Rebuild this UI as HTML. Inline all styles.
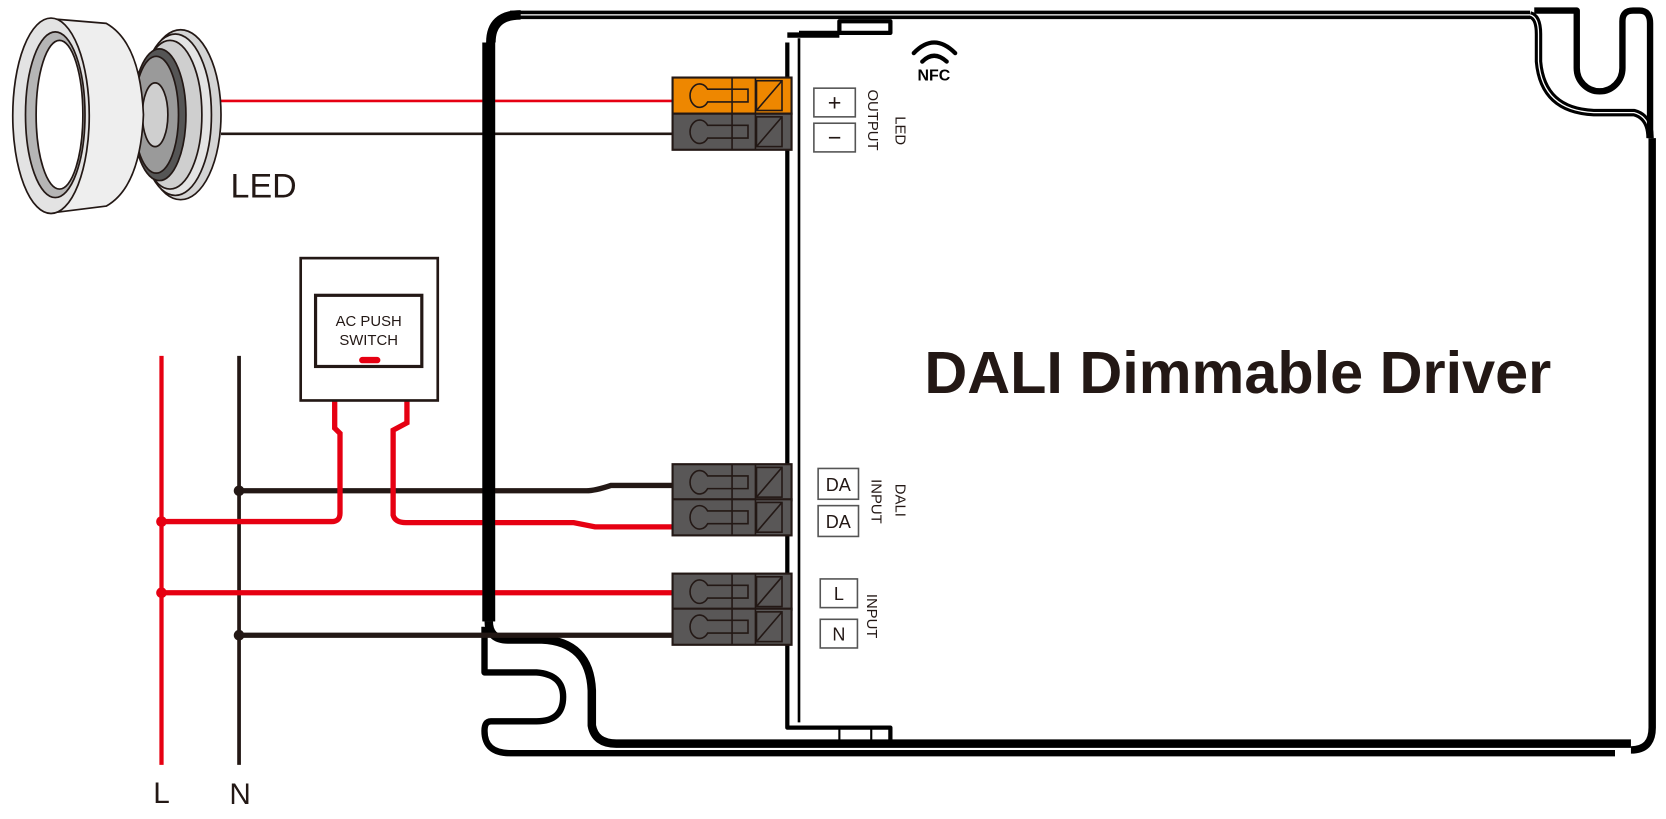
<!DOCTYPE html>
<html><head><meta charset="utf-8"><style>
html,body{margin:0;padding:0;background:#fff;}
svg{display:block;}
text{font-family:"Liberation Sans",Arial,sans-serif;}
</style></head><body>
<svg width="1666" height="819" viewBox="0 0 1568 771" preserveAspectRatio="none" xmlns="http://www.w3.org/2000/svg">
<defs>
<g id="conn">
  <rect x="0" y="0" width="112" height="34" stroke="#231815" stroke-width="2"/>
  <line x1="56" y1="0" x2="56" y2="34" stroke="#231815" stroke-width="1.5"/>
  <line x1="78" y1="0" x2="78" y2="34" stroke="#231815" stroke-width="1.5"/>
  <rect x="79" y="3" width="24" height="28" fill="none" stroke="#231815" stroke-width="1.5"/>
  <line x1="79" y1="31" x2="103" y2="3" stroke="#231815" stroke-width="1.5"/>
  <path d="M33,11 L71,11 L71,23 L33,23 A9,11 0 1 1 33,11 Z" fill="none" stroke="#231815" stroke-width="1.5"/>
</g>
</defs>

<!-- housing -->
<g fill="none" stroke="#000" stroke-linejoin="round">
  <path d="M480,14 L1440,14" stroke-width="8"/>
  <path d="M490,14 L1440,14" stroke="#fff" stroke-width="1.2"/>
  <path d="M462,40 Q462,14 490,14" stroke-width="9"/>
  <path d="M460,40 L460,585" stroke-width="12"/>
  <path d="M460,585 Q460,602 478,602 L510,602 Q555,604 557,650 L557,683 Q560,700 580,700 L1535,700" stroke-width="8"/>
  <path d="M456,590 L456,633 L505,633 Q530,635 530,656 Q530,679 505,679 L462,679 Q456,679 456,688 Q456,709 480,709 L1520,709" stroke-width="6"/>
  <path d="M1535,706 Q1555,706 1555,685 L1555,130" stroke-width="7"/>
  <path d="M1440,14 Q1448,16 1448,32 L1448,58 Q1452,104 1500,106 L1538,106 Q1553,110 1553,130" stroke-width="7"/>
  <path d="M1440,14 Q1448,16 1448,32 L1448,58 Q1452,104 1500,106 L1538,106 Q1553,110 1553,130" stroke="#fff" stroke-width="1.2"/>
  <path d="M1444,10 L1484,10 L1484,64 A21.5,22 0 0 0 1527,64 L1527,20 Q1527,10 1537,10 L1543,10 Q1553,10 1553,22 L1553,130" stroke-width="6"/>
  <path d="M752,31 L838,31 L838,20 L790,20 L790,31" stroke-width="4"/>
  <path d="M741,40 L741,685 L838,685 L838,700" stroke-width="4"/>
  <path d="M741,33 L790,33" stroke-width="5"/>
  <path d="M752,36 L752,680" stroke-width="2.5"/>
  <path d="M790,686 L790,700 M820,686 L820,700" stroke-width="2"/>
</g>

<!-- wires -->
<g fill="none" stroke-width="3.5">
  <line x1="208" y1="95" x2="633" y2="95" stroke="#e60012" stroke-width="2.5"/>
  <line x1="208" y1="126" x2="633" y2="126" stroke="#231815" stroke-width="2.5"/>
  <line x1="152" y1="335" x2="152" y2="720" stroke="#e60012" stroke-width="4"/>
  <line x1="225" y1="335" x2="225" y2="720" stroke="#231815" stroke-width="3.5"/>
  <path d="M225,462 L552,462 Q560,462 575,457 L633,457" stroke="#231815" stroke-width="5"/>
  <path d="M152,491 L312,491 Q320,491 320,483 L320,408 L315,403 L315,378" stroke="#e60012" stroke-width="5"/>
  <path d="M383,378 L383,398 L370,405 L370,485 Q372,492 382,492 L540,492 L560,496 L633,496" stroke="#e60012" stroke-width="5"/>
  <line x1="152" y1="558" x2="633" y2="558" stroke="#e60012" stroke-width="5"/>
  <line x1="225" y1="598" x2="633" y2="598" stroke="#231815" stroke-width="5"/>
</g>
<g fill="#231815">
  <circle cx="225" cy="462" r="5"/><circle cx="225" cy="598" r="5"/>
</g>
<g fill="#e60012">
  <circle cx="152" cy="491" r="5"/><circle cx="152" cy="558" r="5"/>
</g>
<path d="M460,40 L460,585" stroke="#000" stroke-width="12"/>

<use href="#conn" x="633" y="73" fill="#ee8700"/>
<use href="#conn" x="633" y="107" fill="#595757"/>
<use href="#conn" x="633" y="437" fill="#595757"/>
<use href="#conn" x="633" y="470" fill="#595757"/>
<use href="#conn" x="633" y="540" fill="#595757"/>
<use href="#conn" x="633" y="573" fill="#595757"/>

<g fill="#fff" stroke="#555" stroke-width="1.5">
  <rect x="766" y="83" width="39" height="27"/>
  <rect x="766" y="116" width="39" height="27"/>
  <rect x="770" y="441" width="38" height="29"/>
  <rect x="770" y="476" width="38" height="29"/>
  <rect x="772" y="545" width="35" height="27"/>
  <rect x="772" y="583" width="35" height="27"/>
</g>
<g fill="#231815" font-size="17" text-anchor="middle">
  <text x="785.5" y="104" font-size="22">+</text>
  <text x="785.5" y="137" font-size="22">−</text>
  <text x="789" y="462">DA</text>
  <text x="789" y="497">DA</text>
  <text x="789.5" y="565">L</text>
  <text x="789.5" y="603">N</text>
</g>
<g fill="#231815" font-size="14" text-anchor="middle">
  <text transform="translate(817,113) rotate(90)">OUTPUT</text>
  <text transform="translate(843,123) rotate(90)">LED</text>
  <text transform="translate(820,472) rotate(90)">INPUT</text>
  <text transform="translate(843,471) rotate(90)">DALI</text>
  <text transform="translate(816,580) rotate(90)">INPUT</text>
</g>

<g fill="none" stroke="#000" stroke-width="4" stroke-linecap="round">
  <path d="M860,50 Q879,30 899,50"/>
  <path d="M868,58 Q879,47 891,58"/>
</g>
<text x="879" y="76" font-size="15" font-weight="bold" text-anchor="middle" fill="#000">NFC</text>

<text x="870" y="370" font-size="56" font-weight="bold" fill="#231815" textLength="590" lengthAdjust="spacingAndGlyphs">DALI Dimmable Driver</text>

<rect x="283" y="243" width="129" height="134" fill="#fff" stroke="#231815" stroke-width="2.5"/>
<rect x="297" y="278" width="100" height="67" fill="#fff" stroke="#231815" stroke-width="3"/>
<text x="347" y="307" font-size="14" text-anchor="middle" fill="#231815">AC PUSH</text>
<text x="347" y="325" font-size="14" text-anchor="middle" fill="#231815">SWITCH</text>
<line x1="341" y1="339" x2="355" y2="339" stroke="#e60012" stroke-width="6" stroke-linecap="round"/>

<g stroke="#231815" stroke-width="1.6">
  <ellipse cx="170" cy="108" rx="38" ry="80" fill="#d4d4d4"/>
  <ellipse cx="165" cy="108" rx="34" ry="76" fill="#e4e4e4"/>
  <ellipse cx="160" cy="108" rx="30" ry="70" fill="#cfcfcf"/>
  <ellipse cx="150" cy="108" rx="25" ry="62" fill="#555"/>
  <ellipse cx="147" cy="108" rx="21" ry="55" fill="#9a9a9a"/>
  <ellipse cx="146" cy="108" rx="12" ry="30" fill="#cfcfcf"/>
  <path d="M52,18 L100,22 Q132,40 135,108 Q132,176 100,194 L52,200 Z" fill="#eee"/>
  <ellipse cx="48" cy="109" rx="36" ry="92" fill="#e3e3e3"/>
  <ellipse cx="52" cy="108" rx="28" ry="78" fill="#b5b5b5"/>
  <ellipse cx="56" cy="108" rx="22" ry="70" fill="#fff"/>
</g>
<text x="217" y="186" font-size="32" fill="#231815">LED</text>

<text x="152" y="756" font-size="28" text-anchor="middle" fill="#231815">L</text>
<text x="226" y="757" font-size="28" text-anchor="middle" fill="#231815">N</text>
</svg>
</body></html>
